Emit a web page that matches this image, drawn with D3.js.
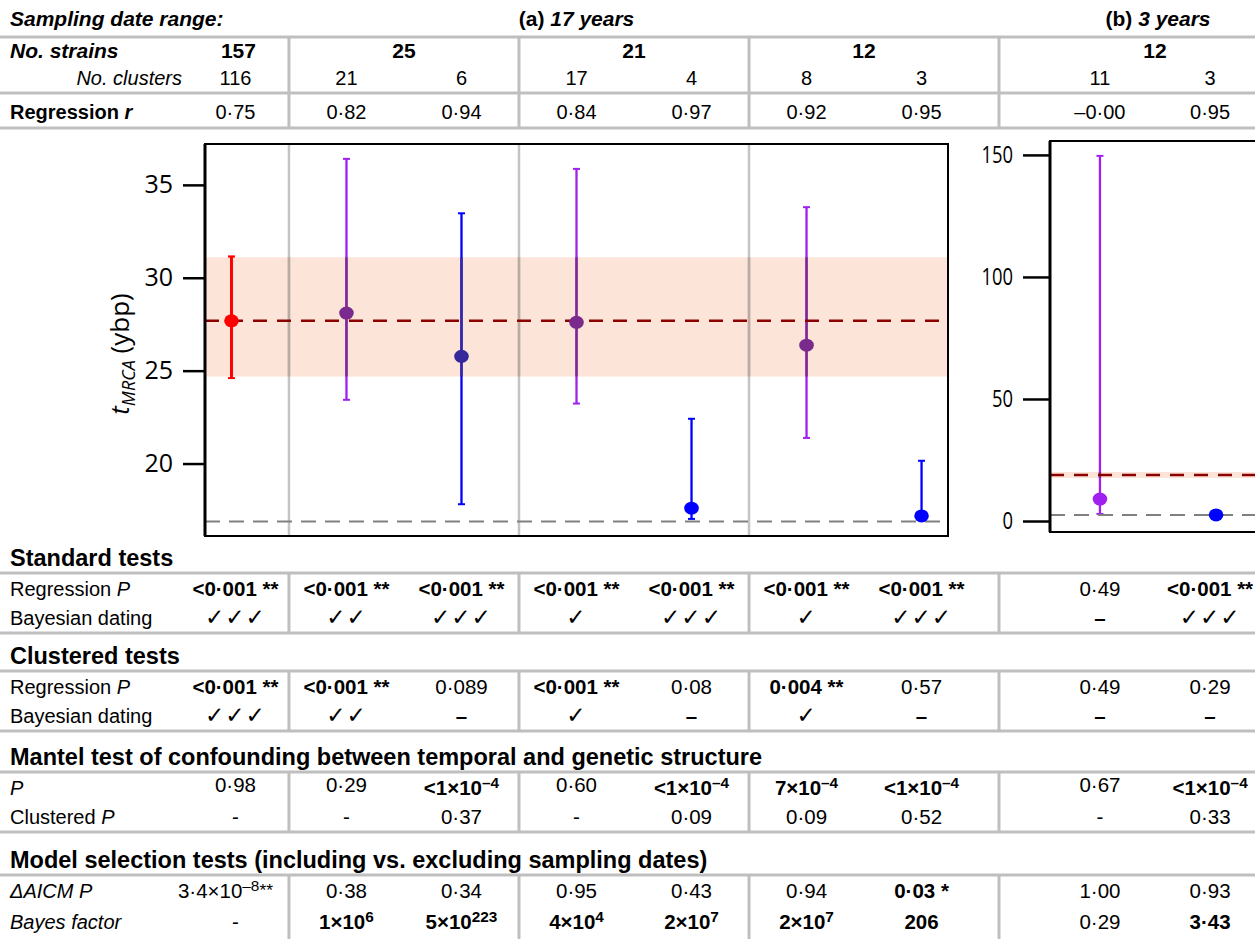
<!DOCTYPE html>
<html>
<head>
<meta charset="utf-8">
<script src="https://cdn.jsdelivr.net/npm/d3@7"></script>
<style>
body{margin:0;background:#fff}
text{font-family:"Liberation Sans",Arial,sans-serif;fill:#000}
</style>
</head>
<body>
<svg id="fig"></svg>
<script>
// ---------- data ----------
var groupStrains=["157","25","21","12","12"]
var groupCols=[[0,0],[1,2],[3,4],[5,6],[7,8]]
var clusters=["116","21","6","17","4","8","3","11","3"]
var regR=["0·75","0·82","0·94","0·84","0·97","0·92","0·95","–0·00","0·95"]

// panel (a): tMRCA estimates with 95% intervals
var midA=[27.68,28.1,25.77,27.6,17.6,26.37,17.18]
var loA=[24.6,23.43,17.81,23.23,17.02,21.38,17.0]
var hiA=[31.15,36.4,33.47,35.86,22.41,33.8,20.15]
var kindA=["all","many","few","many","few","many","few"]
var bandA=[24.68,31.1], meanA=27.68, rootA=16.88
var ticksA=[20,25,30,35]

// panel (b)
var midB=[9.0,2.5]
var loB=[2.9,2.1]
var hiB=[149.6,2.9]
var kindB=["many","few"]
var bandB=[17.6,20.1], meanB=18.85, rootB=2.5
var ticksB=[0,50,100,150]

// test table
var stdRegP=["<0·001 **","<0·001 **","<0·001 **","<0·001 **","<0·001 **","<0·001 **","<0·001 **","0·49","<0·001 **"]
var stdRegPBold=[1,1,1,1,1,1,1,0,1]
var stdBayes=["✓✓✓","✓✓","✓✓✓","✓","✓✓✓","✓","✓✓✓","–","✓✓✓"]
var cluRegP=["<0·001 **","<0·001 **","0·089","<0·001 **","0·08","0·004 **","0·57","0·49","0·29"]
var cluRegPBold=[1,1,0,1,0,1,0,0,0]
var cluBayes=["✓✓✓","✓✓","–","✓","–","✓","–","–","–"]
var mantelP=["0·98","0·29","<1×10^–4","0·60","<1×10^–4","7×10^–4","<1×10^–4","0·67","<1×10^–4"]
var mantelPBold=[0,0,1,0,1,1,1,0,1]
var mantelClu=["-","-","0·37","-","0·09","0·09","0·52","-","0·33"]
var aicmP=["3·4×10^–8|**","0·38","0·34","0·95","0·43","0·94","0·03 *","1·00","0·93"]
var aicmPBold=[0,0,0,0,0,0,1,0,0]
var bayesF=["-","1×10^6","5×10^223","4×10^4","2×10^7","2×10^7","206","0·29","3·43"]
var bayesFBold=[0,1,1,1,1,1,1,0,1]

var sections=[
  {title:"Standard tests",rows:[["Regression ~P~",stdRegP,stdRegPBold],["Bayesian dating",stdBayes,[1,1,1,1,1,1,1,1,1]]]},
  {title:"Clustered tests",rows:[["Regression ~P~",cluRegP,cluRegPBold],["Bayesian dating",cluBayes,[1,1,1,1,1,1,1,1,1]]]},
  {title:"Mantel test of confounding between temporal and genetic structure",rows:[["~P~",mantelP,mantelPBold],["Clustered ~P~",mantelClu,[0,0,0,0,0,0,0,0,0]]]},
  {title:"Model selection tests (including vs. excluding sampling dates)",rows:[["~ΔAICM P~",aicmP,aicmPBold],["~Bayes factor~",bayesF,bayesFBold]]}
]

var colors={all:"#ff0000",many:"#a020f0",few:"#0000ff"}
var darkColors={all:"#ff0000",many:"#7a2a8c",few:"#35289a"}

// ---------- layout ----------
var W=1255,H=939
var svg=d3.select("#fig").attr("width",W).attr("height",H)
var A={l:205,r:948,t:144,b:536}
var B={l:1050,r:1266,t:141,b:532}
var lineCol="#bfbfbf"

var xA=d3.scalePoint().domain(d3.range(7)).range([A.l,A.r]).padding(0.23)
var yA=d3.scaleLinear().domain([16.1,37.2]).range([A.b,A.t])
var xB=d3.scalePoint().domain(d3.range(2)).range([B.l,B.r]).padding(0.43)
var yB=d3.scaleLinear().domain([-4.5,155.7]).range([B.b,B.t])

// text column centres (first and last nudged as in the original table)
var colX=function(i){
  if(i==0) return xA(0)+4
  if(i<7) return xA(i)
  return xB(i-7)-(i==8?6:0)
}
var seps=[(xA(0)+xA(1))/2,(xA(2)+xA(3))/2,(xA(4)+xA(5))/2,(A.r+B.l)/2]

// label with ~italic~ segments
var richLabel=function(g,x,y,s,opts){
  var t=g.append("text").attr("x",x).attr("y",y)
    .style("font-size",(opts.size||20)+"px")
    .style("font-weight",opts.bold?"bold":"normal")
    .attr("text-anchor",opts.anchor||"start")
  s.split("~").forEach(function(p,i){
    if(p.length) t.append("tspan").style("font-style",(i%2==1||opts.italic)?"italic":"normal").text(p)
  })
  return t
}
// cell value with ^superscript|after
var cellText=function(g,x,y,s,bold,size){
  size=size||20
  var t=g.append("text").attr("x",x).attr("y",y).attr("text-anchor","middle")
    .style("font-size",size+"px").style("font-weight",bold?"bold":"normal")
  if(s.indexOf("✓")>=0){
    t.style("font-family","'DejaVu Sans',sans-serif").style("letter-spacing","1px").style("font-size","23px")
  }
  var parts=s.split("^")
  t.append("tspan").text(parts[0])
  if(parts.length>1){
    var rest=parts[1].split("|")
    t.append("tspan").attr("dy",-7).style("font-size",(size*0.75)+"px").text(rest[0])
    if(rest[1]) t.append("tspan").attr("dy",5).style("font-size",(size*0.85)+"px").text(rest[1])
  }
  return t
}
var hline=function(y){
  svg.append("line").attr("x1",0).attr("x2",W).attr("y1",y).attr("y2",y)
    .attr("stroke",lineCol).attr("stroke-width",3)
}
var vlines=function(y1,y2){
  seps.forEach(function(x){
    svg.append("line").attr("x1",x).attr("x2",x).attr("y1",y1).attr("y2",y2)
      .attr("stroke",lineCol).attr("stroke-width",3)
  })
}

// ---------- header table ----------
var head=svg.append("g")
richLabel(head,10,26,"Sampling date range:",{bold:true,italic:true,size:21})
var tA=head.append("text").attr("x",(xA(0)+xA(6))/2).attr("y",26).attr("text-anchor","middle")
  .style("font-size","21px").style("font-weight","bold")
tA.append("tspan").text("(a) ")
tA.append("tspan").style("font-style","italic").text("17 years")
var tB=head.append("text").attr("x",(xB(0)+xB(1))/2).attr("y",26).attr("text-anchor","middle")
  .style("font-size","21px").style("font-weight","bold")
tB.append("tspan").text("(b) ")
tB.append("tspan").style("font-style","italic").text("3 years")

hline(37)
richLabel(head,10,58,"No. strains",{bold:true,italic:true,size:21})
groupStrains.forEach(function(s,i){
  var c=groupCols[i]
  cellText(head,(colX(c[0])+colX(c[1]))/2+(i==0?3:0),58,s,true,21)
})
richLabel(head,182,85,"No. clusters",{italic:true,anchor:"end"})
clusters.forEach(function(s,i){cellText(head,colX(i),85,s,false)})
hline(93)
richLabel(head,10,119,"Regression ~r~",{bold:true})
regR.forEach(function(s,i){cellText(head,colX(i),119,s,false)})
hline(128)
vlines(37,128)

// ---------- panels ----------
var drawPanel=function(P,x,y,mid,lo,hi,kind,band,mean,root,ticks,sepXs,tickSize,narrow){
  var g=svg.append("g")
  var clipId="clip"+P.l
  g.append("clipPath").attr("id",clipId).append("rect")
    .attr("x",P.l).attr("width",P.r-P.l).attr("y",y(band[1])).attr("height",y(band[0])-y(band[1]))
  g.append("rect").attr("x",P.l).attr("width",P.r-P.l).attr("y",y(band[1])).attr("height",y(band[0])-y(band[1]))
    .attr("fill","#fde4d8")
  // separators
  g.selectAll(".sep").data(sepXs).enter().append("line").attr("class","sep")
    .attr("x1",function(d){return d}).attr("x2",function(d){return d})
    .attr("y1",P.t).attr("y2",P.b).attr("stroke","#c4c4c4").attr("stroke-width",2.5)
  // whiskers
  var idx=d3.range(mid.length)
  var whisk=function(gg,cols){
    gg.selectAll(".w").data(idx).enter().append("line").attr("class","w")
      .attr("x1",function(i){return x(i)}).attr("x2",function(i){return x(i)})
      .attr("y1",function(i){return y(lo[i])}).attr("y2",function(i){return y(hi[i])})
      .attr("stroke",function(i){return cols[kind[i]]}).attr("stroke-width",function(i){return kind[i]=="all"?2.8:2.3})
    ;[lo,hi].forEach(function(arr,k){
      gg.selectAll(".c"+k).data(idx).enter().append("line").attr("class","c"+k)
        .attr("x1",function(i){return x(i)-3.5}).attr("x2",function(i){return x(i)+3.5})
        .attr("y1",function(i){return y(arr[i])}).attr("y2",function(i){return y(arr[i])})
        .attr("stroke",function(i){return cols[kind[i]]}).attr("stroke-width",2)
    })
  }
  whisk(g,colors)
  var over=g.append("g").attr("clip-path","url(#"+clipId+")")
  over.selectAll(".sep").data(sepXs).enter().append("line")
    .attr("x1",function(d){return d}).attr("x2",function(d){return d})
    .attr("y1",P.t).attr("y2",P.b).attr("stroke","#b9aaa2").attr("stroke-width",2.5)
  whisk(over,darkColors)
  // dashed reference lines
  g.append("line").attr("x1",P.l).attr("x2",P.r).attr("y1",y(mean)).attr("y2",y(mean))
    .attr("stroke","#8b0000").attr("stroke-width",2.5).attr("stroke-dasharray","14,10")
  g.append("line").attr("x1",P.l).attr("x2",P.r).attr("y1",y(root)).attr("y2",y(root))
    .attr("stroke","#808080").attr("stroke-width",2).attr("stroke-dasharray","15,9")
  // points
  g.selectAll(".pt").data(idx).enter().append("ellipse").attr("class","pt")
    .attr("cx",function(i){return x(i)}).attr("cy",function(i){return y(mid[i])})
    .attr("rx",7.3).attr("ry",6.5)
    .attr("fill",function(i){
      var inBand=mid[i]>=band[0]&&mid[i]<=band[1]
      return inBand?darkColors[kind[i]]:colors[kind[i]]})
  // box
  g.append("rect").attr("x",P.l).attr("y",P.t).attr("width",P.r-P.l).attr("height",P.b-P.t)
    .attr("fill","none").attr("stroke","#000").attr("stroke-width",2)
  g.append("line").attr("x1",P.l).attr("x2",P.l).attr("y1",P.t).attr("y2",P.b).attr("stroke","#000").attr("stroke-width",3)
  // axis
  var ax=g.append("g").attr("transform","translate("+P.l+",0)")
    .call(d3.axisLeft(y).tickValues(ticks).tickSize(tickSize).tickPadding(10))
  ax.select(".domain").remove()
  ax.selectAll(".tick line").attr("stroke","#000").attr("stroke-width",2.5)
  ax.selectAll(".tick text").style("font-family","'Open Sans',sans-serif").style("font-size",narrow?"23px":"25px")
    .attr("fill","#000")
  if(narrow){
    ax.selectAll(".tick text").attr("transform",function(){
      var xx=-(tickSize+10)
      return "translate("+xx+",0) scale(0.8,1) translate("+(-xx)+",0)"})
  }
  return g
}

drawPanel(A,xA,yA,midA,loA,hiA,kindA,bandA,meanA,rootA,ticksA,seps.slice(0,3),22,false)
drawPanel(B,xB,yB,midB,loB,hiB,kindB,bandB,meanB,rootB,ticksB,[],27,true)

// y label
var yl=svg.append("text").attr("transform","translate(129,354) rotate(-90)").attr("text-anchor","middle")
  .style("font-family","'Open Sans',sans-serif").style("font-size","26px")
yl.append("tspan").style("font-style","italic").text("t")
yl.append("tspan").style("font-style","italic").style("font-size","18px").attr("dy",6).text("MRCA")
yl.append("tspan").attr("dy",-6).text(" (ybp)")

// ---------- tests table ----------
var secTop=[566,664,765,868]
var low=svg.append("g")
sections.forEach(function(sec,k){
  var ty=secTop[k]
  richLabel(low,10,ty,sec.title,{bold:true,size:23.5})
  hline(ty+7)
  sec.rows.forEach(function(row,r){
    var ry=ty+30+r*(k==3?31:29)
    richLabel(low,10,ry,row[0],{})
    row[1].forEach(function(v,i){
      var size=(v.indexOf("|")>=0)?20.5:20.5
      var dy=(k==2&&r==0&&!row[2][i])?-3:0
      var xoff=(v.indexOf("|")>=0)?-10:0
      cellText(low,colX(i)+xoff,ry+dy,v,row[2][i],size)
    })
  })
  var bottom=k<3?ty+67:H
  if(k<3) hline(bottom)
  vlines(ty+7,bottom)
})
</script>
</body>
</html>
